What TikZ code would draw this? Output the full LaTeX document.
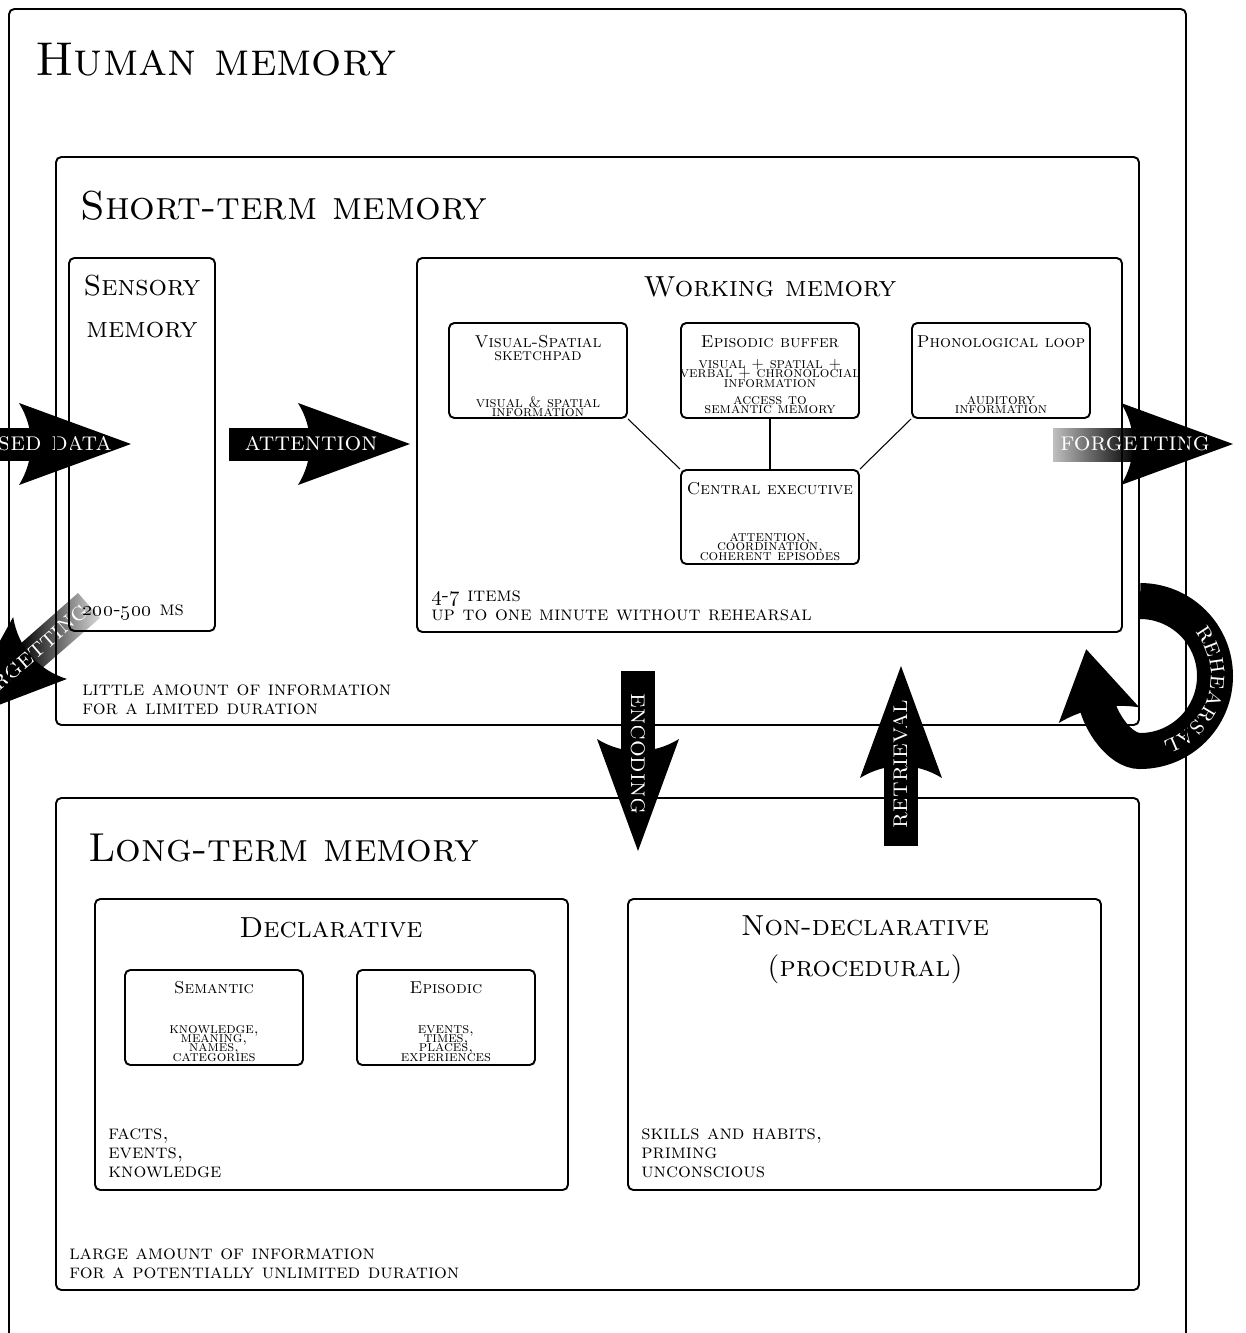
\documentclass[tikz,border=0pt]{standalone}
\usetikzlibrary{fit,decorations.text}
\newcommand\tightlines{\lineskiplimit=-20pt\relax\lineskip=0pt\relax}

\begin{document}
\begin{tikzpicture}[x=0.02cm, y=-0.02cm,
    box/.style={draw, line width=1.1pt, rounded corners=3pt, inner sep=0pt},
    link/.style={line width=0.6pt},
    bigtitle/.style={anchor=base west, inner sep=0pt, font=\fontsize{23}{28}\selectfont\scshape},
    boxhead/.style={inner sep=0pt, align=center, font=\fontsize{16.5}{23.5}\selectfont\scshape},
    subhead/.style={anchor=base, inner sep=0pt, font=\fontsize{9.8}{11}\selectfont\scshape},
    subsub/.style={anchor=base, inner sep=0pt, font=\fontsize{9.6}{10}\selectfont\scshape},
    smalltext/.style={anchor=north, inner sep=0pt, align=center,
      font=\fontsize{8.6}{5.3}\selectfont\scshape\tightlines},
    notetext/.style={anchor=north west, inner sep=0pt, align=left, font=\fontsize{11.5}{10.8}\selectfont\scshape},
    arrowtext/.style={inner sep=0pt, text=white, font=\fontsize{15}{15}\selectfont\scshape},
    bighead/.pic={\fill (0,0) -- (-112,41) .. controls (-96,15) and (-96,-15) .. (-112,-41) -- cycle;}
  ]
  \useasboundingbox (0,0) rectangle (1246,1333);

  % big arrows
  \fill (-150,428) rectangle (33,461);
  \pic at (131,444) {bighead};
  \node[arrowtext, anchor=base east] (sensed) at (112,450) {sensed data};

  \fill (229,428) rectangle (312,461);
  \pic at (410,444) {bighead};
  \node[arrowtext] (attention) at (311,444) {attention};

  \shade[left color=black!25, right color=black] (1053,428) rectangle (1135,461);
  \pic at (1233,444) {bighead};
  \node[arrowtext] (forgetwm) at (1135,444) {forgetting};

  \shade[shading angle=41, left color=black, right color=black!15]
    (100,618) -- (78,593) -- (19,645) -- (40,670) -- cycle;
  \pic[rotate=221] at (-44.5,721.5) {bighead};
  \node[arrowtext, rotate=41] (forgetsm) at (29,657) {forgetting};

  \fill (621,671) rectangle (655,754);
  \pic[rotate=-90] at (638,851) {bighead};
  \node[arrowtext, rotate=-90] (encoding) at (638,754) {encoding};

  \fill (884,763) rectangle (918,846);
  \pic[rotate=90] at (901,666) {bighead};
  \node[arrowtext, rotate=90] (retrieval) at (901,764) {retrieval};

  % rehearsal loop
  \begin{scope}[shift={(1142,676)}, x=0.02cm, y=0.02cm]
    \draw[line width=0.72cm] (-2,75) arc (90:-90:75)
      .. controls (-22,-75) and (-41.7,-45.8) .. (-45.5,-26.2);
    \pic[rotate=101, xscale=0.6] at (-55.8,26.8) {bighead};
    \path[decorate, decoration={text along path, text align=center,
      text={|\color{white}\fontsize{15}{15}\selectfont\scshape|rehearsal}}]
      (74:69) arc (74:-106:69);
  \end{scope}

  % boxes
  \node[box, fit={(9,9) (1186,1345)}] (human) {};
  \node[box, fit={(56,157) (1139,725)}] (stm) {};
  \node[box, fit={(69,258) (215,631)}] (sensory) {};
  \node[box, fit={(417,258) (1122,632)}] (wm) {};
  \node[box, fit={(449,323) (627,418)}] (vs) {};
  \node[box, fit={(681,323) (859,418)}] (eb) {};
  \node[box, fit={(912,323) (1090,418)}] (pl) {};
  \node[box, fit={(681,470) (859,564)}] (ce) {};
  \node[box, fit={(56,798) (1139,1290)}] (ltm) {};
  \node[box, fit={(95,899) (568,1190)}] (decl) {};
  \node[box, fit={(125,970) (303,1065)}] (sem) {};
  \node[box, fit={(357,970) (535,1065)}] (epi) {};
  \node[box, fit={(628,899) (1101,1190)}] (nondecl) {};

  \draw[link] (vs.south east) -- (ce.north west);
  \draw[link] (eb.south) -- (ce.north);
  \draw[link] (pl.south west) -- (ce.north east);

  % titles
  \node[bigtitle, font=\fontsize{27}{32}\selectfont\scshape] (humantitle) at (35,75) {Human memory};
  \node[bigtitle] (stmtitle) at (80,219) {Short-term memory};
  \node[bigtitle] (ltmtitle) at (88,861) {Long-term memory};

  \node[boxhead, anchor=north] (sensorytitle) at (142,275) {Sensory\\memory};
  \node[boxhead, anchor=base] (wmtitle) at (770,296) {Working memory};
  \node[boxhead, anchor=base] (decltitle) at (331,937) {Declarative};
  \node[boxhead, anchor=north] (nondecltitle) at (865,915) {Non-declarative\\(procedural)};

  \node[subhead] (vstitle) at (538,347) {Visual-Spatial};
  \node[subsub] (vssub) at (538,360) {sketchpad};
  \node[subhead] (ebtitle) at (770,347) {Episodic buffer};
  \node[subhead] (pltitle) at (1001,347) {Phonological loop};
  \node[subhead] (cetitle) at (770,494) {Central executive};
  \node[subhead] (semtitle) at (214,993) {Semantic};
  \node[subhead] (epititle) at (446,993) {Episodic};

  % contents
  \node[smalltext] (vstext) at (538,396) {visual \& spatial\\information};
  \node[smalltext] (ebtext) at (770,359) {visual + spatial +\\verbal + chronolocial\\information};
  \node[smalltext] (ebtext2) at (770,396) {access to\\semantic memory};
  \node[smalltext] (pltext) at (1001,396) {auditory\\information};
  \node[smalltext] (cetext) at (770,533) {attention,\\coordination,\\coherent episodes};
  \node[smalltext] (semtext) at (214,1025) {knowledge,\\meaning,\\names,\\categories};
  \node[smalltext] (epitext) at (446,1025) {events,\\times,\\places,\\experiences};

  \node[notetext, anchor=base west] (sensorytext) at (82,615) {\oldstylenums{200}-\oldstylenums{500} ms};
  \node[notetext] (stmtext) at (82,684) {little amount of information\\for a limited duration};
  \node[notetext] (wmtext) at (431,590) {\oldstylenums{4}-\oldstylenums{7} items\\up to one minute without rehearsal};
  \node[notetext] (decltext) at (108,1128) {facts,\\events,\\knowledge};
  \node[notetext] (nondecltext) at (641,1128) {skills and habits,\\priming\\unconscious};
  \node[notetext] (ltmtext) at (69,1248) {large amount of information\\for a potentially unlimited duration};
\end{tikzpicture}
\end{document}
